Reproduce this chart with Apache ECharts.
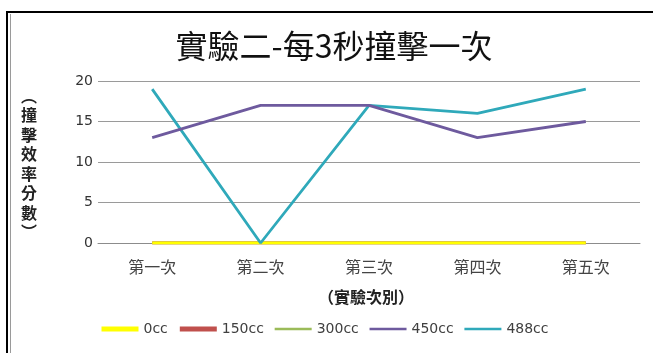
<!DOCTYPE html>
<html>
<head>
<meta charset="utf-8">
<script src="https://cdn.jsdelivr.net/npm/echarts@6/dist/echarts.min.js"></script>
<style>
  html, body { margin: 0; padding: 0; background: #fff; }
  #chart { width: 653px; height: 353px; }
</style>
</head>
<body>
<div id="chart"></div>
<script>
// Trial labels along the x axis
const trials = ['第一次', '第二次', '第三次', '第四次', '第五次'];
// Impact efficiency scores per volume
const cc0 = [0, 0, 0, 0, 0];
const cc150 = [0, 0, 0, 0, 0];
const cc300 = [0, 0, 0, 0, 0];
const cc450 = [13, 17, 17, 13, 15];
const cc488 = [19, 0, 17, 16, 19];
const seriesNames = ['0cc', '150cc', '300cc', '450cc', '488cc'];
const seriesColors = ['#ffff00', '#c0504d', '#9bbb59', '#6e5a9e', '#2fa9ba'];
const legendWidths = [5, 5, 2.5, 2.5, 2.5];
const lineWidths = [2.8, 2.8, 2.8, 2.8, 2.8];
const yTicks = { min: 0, max: 20, interval: 5 };

const values = [cc0, cc150, cc300, cc450, cc488];
const font = '"Noto Sans CJK TC", "Noto Sans", sans-serif';

const chart = echarts.init(document.getElementById('chart'), null, { renderer: 'canvas' });
chart.setOption({
  backgroundColor: '#ffffff',
  animation: false,
  title: {
    text: '實驗二-每3秒撞擊一次',
    left: 334,
    textAlign: 'center',
    top: 30,
    textStyle: { fontFamily: font, fontSize: 32, fontWeight: 'normal', color: '#111' },
    padding: 0
  },
  grid: { left: 98, right: 13, top: 81, bottom: 110 },
  xAxis: {
    type: 'category',
    data: trials,
    boundaryGap: true,
    axisLine: { lineStyle: { color: '#8c8c8c', width: 1 } },
    axisTick: { show: false },
    axisLabel: { margin: 16, fontFamily: font, fontSize: 16, color: '#444' }
  },
  yAxis: {
    type: 'value',
    min: yTicks.min,
    max: yTicks.max,
    interval: yTicks.interval,
    axisLine: { show: false },
    axisTick: { show: false },
    axisLabel: { margin: 5, fontFamily: '"DejaVu Sans", sans-serif', fontSize: 14, color: '#333', align: 'right' },
    splitLine: { lineStyle: { color: '#9a9a9a', width: 1 } }
  },
  legend: {
    orient: 'horizontal',
    bottom: 12,
    left: 94,
    itemWidth: 37,
    itemHeight: 10,
    itemGap: 9.5,
    itemStyle: { opacity: 0 },
    textStyle: { fontFamily: '"DejaVu Sans", sans-serif', fontSize: 14, color: '#404040' },
    data: seriesNames.map((n, i) => ({ name: n, lineStyle: { width: legendWidths[i], color: seriesColors[i] } }))
  },
  graphic: [
    { type: 'rect', shape: { x: 7, y: 12, width: 660, height: 360 }, style: { fill: 'none', stroke: '#000', lineWidth: 2 }, silent: true },
    { type: 'line', shape: { x1: 10.5, y1: 14, x2: 10.5, y2: 353 }, style: { stroke: '#9a9a9a', lineWidth: 1 }, silent: true },
    {
      type: 'text', left: 21, top: 86,
      style: {
        text: '︵\n撞\n擊\n效\n率\n分\n數\n︶',
        font: 'bold 16px ' + font,
        fill: '#222',
        lineHeight: 19.5,
        align: 'center'
      }
    },
    {
      type: 'text', left: 318, top: 289,
      style: { text: '（實驗次別）', font: 'bold 16px ' + font, fill: '#222' }
    }
  ],
  series: values.map((v, i) => ({
    name: seriesNames[i],
    type: 'line',
    data: v,
    symbol: 'none',
    color: seriesColors[i],
    z: 10 - i + (i >= 3 ? 10 : 0),
    lineStyle: { width: lineWidths[i], color: seriesColors[i] }
  }))
});
</script>
</body>
</html>
